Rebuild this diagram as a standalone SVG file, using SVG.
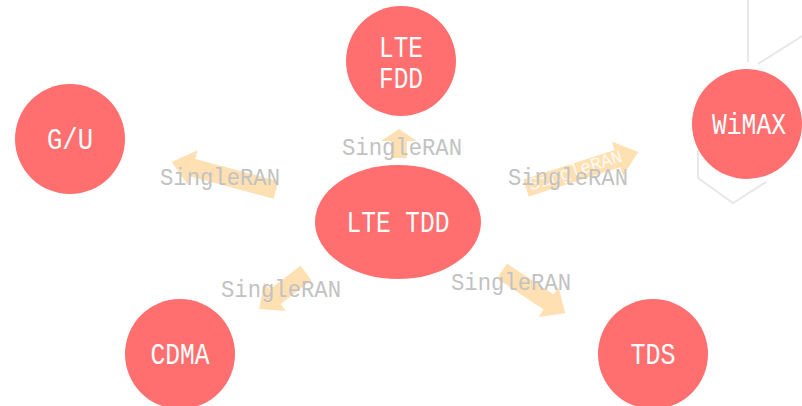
<svg xmlns="http://www.w3.org/2000/svg" width="802" height="406" viewBox="0 0 802 406">
<style>
.node{fill:#FF6F6F}
.nl{font-family:"Liberation Mono",monospace;font-size:29px;fill:#FFFFFF;text-anchor:middle}
.arr{fill:#FFE0B3}
.lab{font-family:"Liberation Mono",monospace;font-size:24px;fill:#C2C2C2;text-anchor:middle}
.bg{fill:none;stroke:#E8E8E8;stroke-width:2}
</style>
<rect width="802" height="406" fill="#FFFFFF"/>
<g id="background">
<polyline class="bg" points="748,0 748,62"/>
<polyline class="bg" points="758,64 802,36"/>
<polyline class="bg" points="698,150 698,178 733,203 766,182"/>
</g>
<g id="connectors">
<polygon class="arr" transform="translate(276,190) rotate(195)" points="0,-9 86,-9 86,-18 108,0 86,18 86,9 0,9"/>
<polygon class="arr" transform="translate(526,188) rotate(-17.8)" points="0,-9 96,-9 96,-18 118,0 96,18 96,9 0,9"/>
<polygon class="arr" transform="translate(399,158) rotate(-90)" points="0,-8 17,-8 17,-18 29,0 17,18 17,8 0,8"/>
<polygon class="arr" transform="translate(306,273) rotate(142.5)" points="0,-9 39,-9 39,-18 59,0 39,18 39,9 0,9"/>
<polygon class="arr" transform="translate(502,271) rotate(33.7)" points="0,-9 56,-9 56,-18 76,0 56,18 56,9 0,9"/>
<text transform="translate(577,176) rotate(-17.8)" font-family="Liberation Mono, monospace" font-size="18" fill="#FFFFFF" fill-opacity="0.85" text-anchor="middle">SingleRAN</text>
<text class="lab" x="402" y="155" textLength="120" lengthAdjust="spacingAndGlyphs">SingleRAN</text>
<text class="lab" x="220" y="185" textLength="120" lengthAdjust="spacingAndGlyphs">SingleRAN</text>
<text class="lab" x="568" y="185" textLength="120" lengthAdjust="spacingAndGlyphs">SingleRAN</text>
<text class="lab" x="281" y="297" textLength="120" lengthAdjust="spacingAndGlyphs">SingleRAN</text>
<text class="lab" x="511" y="290" textLength="120" lengthAdjust="spacingAndGlyphs">SingleRAN</text>
</g>
<g id="lte-fdd">
<circle class="node" cx="401" cy="61" r="55"/>
<text class="nl" x="401" y="57" textLength="44" lengthAdjust="spacingAndGlyphs">LTE</text>
<text class="nl" x="401" y="88" textLength="44" lengthAdjust="spacingAndGlyphs">FDD</text>
</g>
<g id="gu">
<circle class="node" cx="70" cy="139" r="55"/>
<text class="nl" x="70" y="149" textLength="46" lengthAdjust="spacingAndGlyphs">G/U</text>
</g>
<g id="wimax">
<circle class="node" cx="747" cy="124" r="55"/>
<text class="nl" x="749" y="134" textLength="74" lengthAdjust="spacingAndGlyphs">WiMAX</text>
</g>
<g id="lte-tdd">
<ellipse class="node" cx="398" cy="222" rx="83" ry="57"/>
<text class="nl" x="398" y="232" textLength="103" lengthAdjust="spacingAndGlyphs">LTE TDD</text>
</g>
<g id="cdma">
<circle class="node" cx="180" cy="354" r="55"/>
<text class="nl" x="180" y="364" textLength="59" lengthAdjust="spacingAndGlyphs">CDMA</text>
</g>
<g id="tds">
<circle class="node" cx="653" cy="354" r="55"/>
<text class="nl" x="653" y="364" textLength="45" lengthAdjust="spacingAndGlyphs">TDS</text>
</g>
</svg>
